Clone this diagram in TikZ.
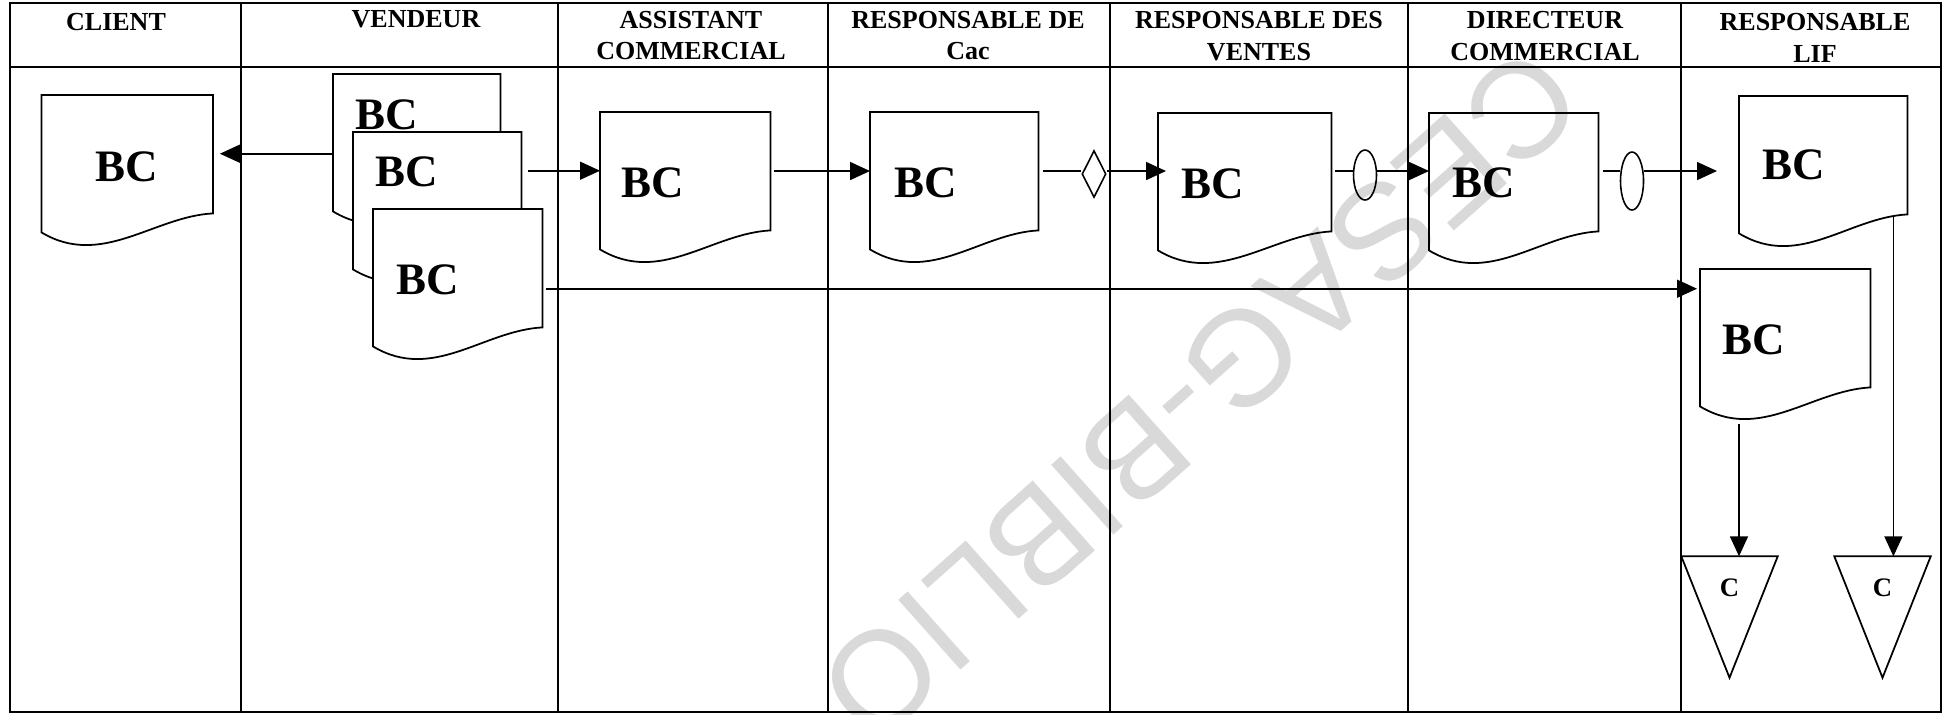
\documentclass[tikz,border=0pt]{standalone}
\usepackage{fontspec}
\setmainfont{Liberation Serif}
\newfontfamily\filigrane{Liberation Sans}
\usepackage{tikz}
\usetikzlibrary{shapes.geometric,arrows.meta}
\tikzset{
  cadre/.style={line width=0.45pt},
  docbox/.style={rectangle, anchor=north west, minimum height=11.7mm, inner sep=0pt},
  docline/.style={line width=0.5pt},
  bctext/.style={inner sep=0pt, font=\fontsize{12.8}{15}\selectfont\bfseries},
  ctext/.style={inner sep=0pt, font=\fontsize{7.6}{9}\selectfont\bfseries},
  entete/.style={anchor=north, align=center, inner sep=0pt,
    font=\fontsize{7.4}{8.9}\selectfont\bfseries},
  lien/.style={line width=0.45pt},
  flux/.style={lien, -{Triangle[length=2mm,width=1.8mm]}},
  ovale/.style={ellipse, draw, line width=0.45pt, inner sep=0pt, minimum width=2.3mm},
  losange/.style={diamond, draw, line width=0.45pt, inner sep=0pt,
    minimum width=2.4mm, minimum height=4.7mm},
  classement/.style={rectangle, inner sep=0pt, minimum width=9.5mm, minimum height=12mm}
}

% document "BC" : #1 options, #2 nom, #3 coin haut gauche, #4 largeur, #5 place du texte
\newcommand{\bcdoc}[5][]{%
  \node[docbox, minimum width=#4] (#2) at (#3) {};
  \draw[docline,#1] (#2.north west) -- (#2.north east) -- (#2.south east)
    .. controls ([shift={(-5.9mm,-0.3mm)}]#2.south east)
    and ([shift={(6mm,-5.5mm)}]#2.south west) .. ([yshift=-1.9mm]#2.south west) -- cycle;
  \node[bctext] (#2-t) at ([shift={#5}]#2.north west) {BC};
}
% classeur : #1 nom, #2 centre
\newcommand{\classeur}[2]{%
  \node[classement] (#1) at (#2) {};
  \draw[docline] (#1.north west) -- (#1.north east) -- (#1.south) -- cycle;
  \node[ctext] (#1-t) at ([yshift=-3.1mm]#1.north) {C};
}

\begin{document}
\begin{tikzpicture}[x=0.1mm, y=-0.1mm]
\useasboundingbox (0,0) rectangle (1944,714);
  % filigrane
  \node[text=black!15, font=\filigrane\fontsize{38.7}{40}\selectfont,
    rotate=221.7, inner sep=0pt] (filigrane) at (1200,395) {CESAG-BIBLIO};

  % tableau
\draw[cadre] (10,3) rectangle (1941,712);
\draw[cadre] (10,67) -- (1941,67);
\foreach \x in {241,558,828,1110,1408,1681}
{
  \draw[cadre] (\x,3) -- (\x,712);
}

  % en-tetes
  \node[entete] (h-client) at (116,13) {CLIENT};
  \node[entete] (h-vendeur) at (416,9.5) {VENDEUR};
  \node[entete] (h-assist) at (691,10.5) {ASSISTANT\\COMMERCIAL};
  \node[entete] (h-cac) at (968,10.5) {RESPONSABLE DE\\Cac};
  \node[entete] (h-ventes) at (1259,11) {RESPONSABLE DES\\VENTES};
  \node[entete] (h-dir) at (1545,11) {DIRECTEUR\\COMMERCIAL};
  \node[entete] (h-lif) at (1815,13) {RESPONSABLE\\LIF};

  % documents
  \bcdoc{client}{41.5,95}{17mm}{(8.55mm,-7.2mm)}
  \bcdoc[fill=white]{v1}{333,74}{16.6mm}{(5.4mm,-4.1mm)}
  \bcdoc[fill=white]{v2}{353,132}{16.7mm}{(5.4mm,-4mm)}
  \bcdoc[fill=white]{v3}{373,209}{16.8mm}{(5.5mm,-7.1mm)}
  \bcdoc{assist}{600,112}{16.9mm}{(5.3mm,-7.1mm)}
  \bcdoc{cac}{870,112}{16.7mm}{(5.6mm,-7.1mm)}
  \bcdoc{ventes}{1158,113}{17.2mm}{(5.5mm,-7.1mm)}
  \bcdoc{dir}{1429,113}{16.8mm}{(5.5mm,-7mm)}
  \bcdoc{lif1}{1739,96}{16.7mm}{(5.5mm,-6.9mm)}
  \bcdoc{lif2}{1700,269}{16.9mm}{(5.4mm,-7.1mm)}

  % classeurs
  \classeur{t1}{1729.5,617}
  \classeur{t2}{1882.5,617}

  % controles
  \coordinate (ligne) at (0,171);
  \node[losange] (los) at (1094,174) {};
  \node[ovale, minimum height=5mm] (ov1) at (1365,175) {};
  \node[ovale, minimum height=5.8mm] (ov2) at (1632,181) {};

  % flux
  \draw[flux, shorten >=0.7mm] ([yshift=-2.05mm]v1.west) coordinate (a0) -- (client.east |- a0);
  \draw[flux, shorten <=0.7mm] ([yshift=2.05mm]v2.east) coordinate (b0) -- (assist.west |- b0);
  \draw[flux, shorten <=0.4mm] (assist.east |- ligne) -- (cac.west |- ligne);
  \draw[lien, shorten <=0.5mm] (cac.east |- ligne) -- (los.west |- ligne);
  \draw[flux, shorten >=-0.8mm] (los.east |- ligne) -- (ventes.west |- ligne);
  \draw[lien, shorten <=0.4mm] (ventes.east |- ligne) -- (ov1.west |- ligne);
  \draw[flux] (ov1.east |- ligne) -- (dir.west |- ligne);
  \draw[lien, shorten <=0.5mm] (dir.east |- ligne) -- (ov2.west |- ligne);
  \draw[flux, shorten >=2.2mm] (ov2.east |- ligne) -- (lif1.west |- ligne);
  \draw[flux, shorten <=0.4mm, shorten >=0.3mm] ([yshift=-2.05mm]v3.east) coordinate (j0) -- (lif2.west |- j0);
  \draw[flux] ([shift={(3.9mm,-3.7mm)}]lif2.south west) coordinate (k0) -- (k0 |- t1.north);
  \draw[flux] ([shift={(-1.4mm,-0.1mm)}]lif1.south east) coordinate (l0) -- (l0 |- t2.north);
\end{tikzpicture}
\end{document}
